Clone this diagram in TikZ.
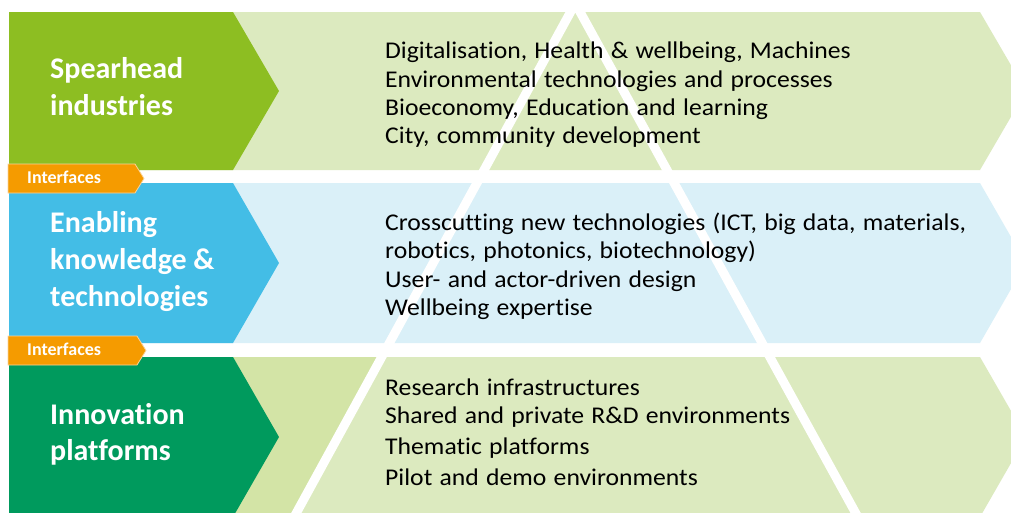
\documentclass[tikz,border=0pt]{standalone}
\usepackage{fontspec}
\setmainfont[Ligatures=NoCommon]{Carlito}
\newfontfamily\itemfont[FakeStretch=1.07, WordSpace=1.25, Ligatures=NoCommon]{Carlito}
\definecolor{spearGreen}{HTML}{8DBE22}
\definecolor{paleGreen}{HTML}{DCEABF}
\definecolor{deepPale}{HTML}{D3E4A6}
\definecolor{enableBlue}{HTML}{43BDE6}
\definecolor{paleBlue}{HTML}{DAF0F8}
\definecolor{platGreen}{HTML}{009A5D}
\definecolor{tabOrange}{HTML}{F59B00}
\definecolor{tabEdge}{HTML}{FAD29A}
\begin{document}
\begin{tikzpicture}[x=1pt,y=-1pt,
  heading/.style={anchor=base west, inner sep=0pt, text=white,
    font=\fontsize{30}{36}\selectfont\bfseries},
  item/.style={anchor=base west, inner sep=0pt, text=black,
    font=\itemfont\fontsize{24}{28}\selectfont},
  tablabel/.style={anchor=base west, inner sep=0pt, text=white,
    font=\fontsize{18}{20}\selectfont\bfseries},
  tabshape/.style={fill=tabOrange, draw=tabEdge, line width=0.8pt}]
\clip (0,0) rectangle (1011,512);
\fill[white] (0,0) rectangle (1011,512);

% pale backgrounds of the three rows
\fill[paleGreen] (9,12) -- (980,12) -- (1026,91) -- (980,170) -- (9,170) -- cycle;
\fill[paleBlue] (9,183) -- (980,183) -- (1026,263) -- (980,343) -- (9,343) -- cycle;
\fill[paleGreen] (9,357) -- (980,357) -- (1026,437) -- (980,517) -- (9,517) -- cycle;
% darker wedge of the bottom row, left of the triangle
\fill[deepPale] (233,357) -- (382,357) -- (294,517) -- (233,517) -- cycle;

% white triangle outline across the rows
\draw[white, line width=9pt, line join=miter]
  (287,530) -- (575.3,3.3) -- (865,530);

% coloured row heads
\fill[spearGreen] (9,12) -- (233,12) -- (279,91) -- (233,170) -- (9,170) -- cycle;
\fill[enableBlue] (9,183) -- (233,183) -- (279,263) -- (233,343) -- (9,343) -- cycle;
\fill[platGreen] (9,357) -- (233,357) -- (279,437) -- (233,517) -- (9,517) -- cycle;

% interface tabs
\draw[tabshape] (8,164) -- (135,164) -- (144,178.5) -- (135,193) -- (8,193) -- cycle;
\draw[tabshape] (8,336) -- (137,336) -- (146,350.5) -- (137,365) -- (8,365) -- cycle;
\node[tablabel] (if1) at (27,183) {Interfaces};
\node[tablabel] (if2) at (27,355) {Interfaces};

% row headings
\node[heading] (sh1) at (50,78) {Spearhead};
\node[heading] (sh2) at (50,115) {industries};
\node[heading] (en1) at (50,232) {Enabling};
\node[heading] (en2) at (50,269) {knowledge \&};
\node[heading] (en3) at (50,306) {technologies};
\node[heading] (ip1) at (50,424) {Innovation};
\node[heading] (ip2) at (50,460) {platforms};

% row contents
\node[item] (s1) at (385,58) {Digitalisation, Health \& wellbeing, Machines};
\node[item] (s2) at (385,87) {Environmental technologies and processes};
\node[item] (s3) at (385,115) {Bioeconomy, Education and learning};
\node[item] (s4) at (385,143) {City, community development};

\node[item] (e1) at (385,230) {Crosscutting new technologies (ICT, big data, materials,};
\node[item] (e2) at (385,258) {robotics, photonics, biotechnology)};
\node[item] (e3) at (385,287) {User- and actor-driven design};
\node[item] (e4) at (385,315) {Wellbeing expertise};

\node[item] (p1) at (385,395) {Research infrastructures};
\node[item] (p2) at (385,423) {Shared and private R\&D environments};
\node[item] (p3) at (385,454) {Thematic platforms};
\node[item] (p4) at (385,485) {Pilot and demo environments};
\end{tikzpicture}
\end{document}
